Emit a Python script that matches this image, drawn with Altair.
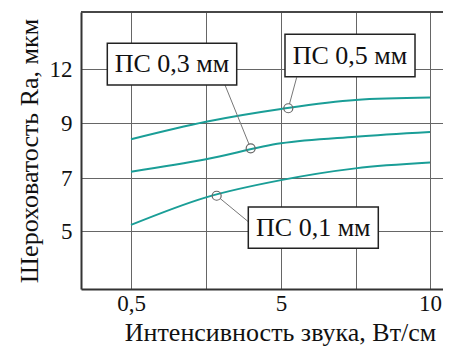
import altair as alt
import pandas as pd

# ---- data ----
x_vals = [0.5, 2.75, 5, 7.5, 10]
ps05 = [8.41, 9.07, 9.78, 10.28, 10.41]
ps03 = [7.23, 7.68, 8.26, 8.50, 8.67]
ps01 = [5.23, 6.27, 6.92, 7.35, 7.56]
series_names = ["ПС 0,5 мм", "ПС 0,3 мм", "ПС 0,1 мм"]

x_ticks = [0.5, 2.75, 5, 7.5, 10]
y_ticks = [5, 7, 9, 12]

# annotations (data units)
lab_text = ["ПС 0,3 мм", "ПС 0,5 мм", "ПС 0,1 мм"]
lab_x = [1.73, 7.316, 6.084]
lab_y = [12.27, 12.75, 5.125]
box_x1 = [-0.211, 5.134, 4.019]
box_x2 = [3.671, 9.497, 8.265]
box_y1 = [13.43, 13.93, 5.906]
box_y2 = [11.11, 11.57, 4.347]
lead_x1 = [3.32, 5.527, 4.02]
lead_y1 = [11.11, 11.54, 5.35]
lead_x2 = [4.04, 5.285, 3.18]
lead_y2 = [8.23, 10.06, 6.22]
mark_x = [4.09, 5.245, 3.07]
mark_y = [8.08, 9.82, 6.33]

rows = []
for name, ys in zip(series_names, [ps05, ps03, ps01]):
    for xv, yv in zip(x_vals, ys):
        rows.append({"series": name, "x": xv, "y": yv})
lines_df = pd.DataFrame(rows)

ann_df = pd.DataFrame({
    "text": lab_text, "lx": lab_x, "ly": lab_y,
    "bx1": box_x1, "bx2": box_x2, "by1": box_y1, "by2": box_y2,
    "ax1": lead_x1, "ay1": lead_y1, "ax2": lead_x2, "ay2": lead_y2,
    "mx": mark_x, "my": mark_y,
})

W, H = 362, 277
FONT = "Liberation Serif"

# piecewise-linear scales (ticks are evenly spaced on the original figure)
xscale = alt.Scale(domain=[-1.0, 0.5, 5, 10, 10.436], range=[0, 50, 200, 349, W],
                   zero=False, nice=False)
yscale = alt.Scale(domain=[2.811, 5, 7, 9, 12, 15.167], range=[H, 219, 166, 111, 57, 0],
                   zero=False, nice=False)

x_axis = alt.Axis(
    values=x_ticks,
    labelExpr="datum.value == 0.5 ? '0,5' : datum.value == 5 ? '5' : datum.value == 10 ? '10' : ''",
    title="Интенсивность звука, Вт/см",
    titleX=199, titleY=51, titleBaseline="alphabetic", titleAlign="center",
    ticks=False, labelPadding=3, labelFlush=False,
)
y_axis = alt.Axis(
    values=y_ticks,
    title="Шероховатость Ra, мкм",
    titleX=-44, titleY=138.5, titleBaseline="alphabetic", titleAlign="center", titleAngle=-90,
    ticks=False, labelPadding=9,
)

lines = alt.Chart(lines_df).mark_line(
    interpolate="monotone", color="#1a9e97", strokeWidth=2
).encode(
    x=alt.X("x:Q", scale=xscale, axis=x_axis),
    y=alt.Y("y:Q", scale=yscale, axis=y_axis),
    detail="series:N",
)

leaders = alt.Chart(ann_df).mark_rule(color="#777777", strokeWidth=1).encode(
    x=alt.X("ax1:Q", scale=xscale), y=alt.Y("ay1:Q", scale=yscale),
    x2="ax2:Q", y2="ay2:Q",
)

circles = alt.Chart(ann_df).mark_point(
    shape="circle", size=81, filled=False, color="#666666", strokeWidth=1.2, opacity=1
).encode(
    x=alt.X("mx:Q", scale=xscale), y=alt.Y("my:Q", scale=yscale),
)

boxes = alt.Chart(ann_df).mark_rect(
    fill="white", stroke="#222222", strokeWidth=1.5
).encode(
    x=alt.X("bx1:Q", scale=xscale), x2="bx2:Q",
    y=alt.Y("by1:Q", scale=yscale), y2="by2:Q",
)

texts = alt.Chart(ann_df).mark_text(
    font=FONT, fontSize=26, color="#111111", align="center", baseline="middle"
).encode(
    x=alt.X("lx:Q", scale=xscale), y=alt.Y("ly:Q", scale=yscale), text="text:N",
)

top_border = alt.Chart(ann_df).mark_rule(color="#444444", strokeWidth=1.5).encode(
    x=alt.value(0), x2=alt.value(W), y=alt.value(0)
)

chart = alt.layer(lines, leaders, circles, boxes, texts, top_border).properties(
    width=W, height=H,
    padding={"left": 73, "top": 4, "right": 0, "bottom": 60},
    autosize=alt.AutoSizeParams(type="none"),
).configure_view(stroke=None).configure_axis(
    domainColor="#333333", domainWidth=2,
    grid=True, gridColor="#666666", gridWidth=1,
    labelFont=FONT, labelFontSize=23, labelColor="#111111",
    titleFont=FONT, titleFontSize=26, titleColor="#111111", titleFontWeight="normal",
)

chart.save("out.html", embed_options={"renderer": "svg", "actions": False})
